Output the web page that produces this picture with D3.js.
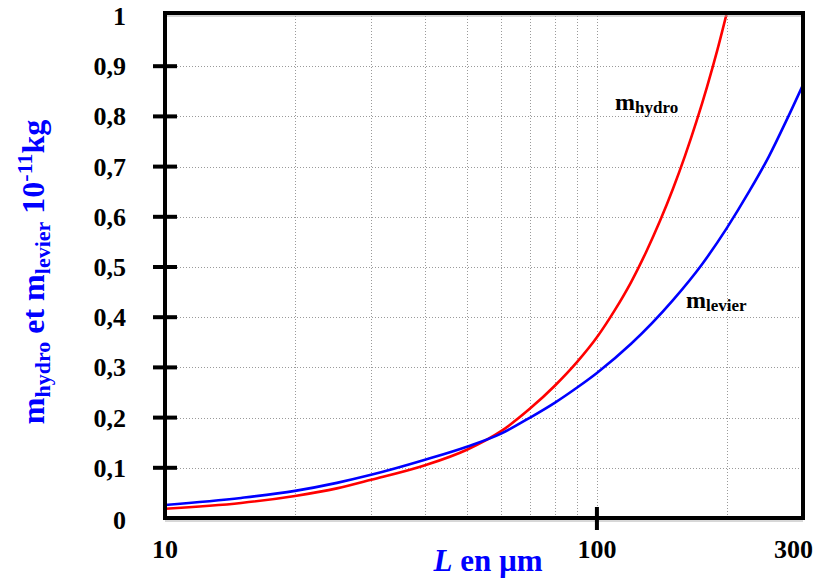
<!DOCTYPE html>
<html>
<head>
<meta charset="utf-8">
<script src="https://cdn.jsdelivr.net/npm/d3@7"></script>
<style>
  html, body { margin: 0; padding: 0; background: #fff; }
  svg { display: block; }
  text { font-family: "Liberation Serif", "Times New Roman", serif; font-weight: bold; }
</style>
</head>
<body>
<svg id="chart" width="814" height="581"></svg>
<script>
// ---- data ----
const lengthsHydro = [10, 15, 20, 25, 30, 40, 50, 60, 70, 80, 90, 100, 110, 120, 130, 140, 150, 160, 170, 180, 190, 200];
const mHydro       = [0.0185, 0.030, 0.044, 0.059, 0.076, 0.105, 0.136, 0.173, 0.218, 0.264, 0.311, 0.360, 0.414, 0.470, 0.530, 0.592, 0.656, 0.722, 0.790, 0.860, 0.932, 1.007];
const lengthsLevier = [10, 15, 20, 25, 30, 40, 50, 60, 70, 80, 90, 100, 120, 150, 175, 200, 225, 250, 275, 300];
const mLevier       = [0.026, 0.040, 0.054, 0.070, 0.086, 0.116, 0.142, 0.168, 0.200, 0.230, 0.260, 0.289, 0.347, 0.434, 0.505, 0.578, 0.650, 0.720, 0.793, 0.863];
const yTicks = [0, 0.1, 0.2, 0.3, 0.4, 0.5, 0.6, 0.7, 0.8, 0.9, 1];
const yTickLabels = ["0", "0,1", "0,2", "0,3", "0,4", "0,5", "0,6", "0,7", "0,8", "0,9", "1"];
const xGrid = [20, 30, 40, 50, 60, 70, 80, 90, 100, 200];
const xTickLabels = ["10", "100", "300"];
const xTickValues = [10, 100, 300];

// ---- layout ----
const pLeft = 165, pRight = 803, pTop = 13, pBottom = 518;
const svg = d3.select("#chart");

const x = d3.scaleLog().domain([10, 300]).range([pLeft, pRight]);
const y = d3.scaleLinear().domain([0, 1]).range([pBottom, 16]);

// clip
svg.append("defs").append("clipPath").attr("id", "plotclip")
  .append("rect").attr("x", pLeft).attr("y", pTop).attr("width", pRight - pLeft).attr("height", pBottom - pTop);

// grid
const grid = svg.append("g").attr("stroke", "#9a9a9a").attr("stroke-width", 1).attr("stroke-dasharray", "1,2");
grid.selectAll("line.v").data(xGrid).join("line").attr("class", "v")
  .attr("x1", d => Math.round(x(d)) + 0.5).attr("x2", d => Math.round(x(d)) + 0.5)
  .attr("y1", pTop).attr("y2", pBottom);
grid.selectAll("line.h").data(yTicks.filter(d => d > 0 && d < 1)).join("line").attr("class", "h")
  .attr("x1", pLeft).attr("x2", pRight)
  .attr("y1", d => Math.round(y(d)) + 0.5).attr("y2", d => Math.round(y(d)) + 0.5);

// curves
const line = d3.line().x(d => x(d[0])).y(d => y(d[1])).curve(d3.curveMonotoneX);
const curves = svg.append("g").attr("clip-path", "url(#plotclip)").attr("fill", "none").attr("stroke-width", 2.6);
curves.append("path").datum(lengthsHydro.map((L, i) => [L, mHydro[i]]))
  .attr("stroke", "#ff0000").attr("d", line);
curves.append("path").datum(lengthsLevier.map((L, i) => [L, mLevier[i]]))
  .attr("stroke", "#0000ff").attr("d", line);

// subtle inner shade lines of the frame
svg.append("line").attr("x1", pLeft + 2).attr("x2", pRight - 2).attr("y1", pTop + 3).attr("y2", pTop + 3)
  .attr("stroke", "#b0b0b0").attr("stroke-width", 1);
svg.append("line").attr("x1", pLeft).attr("x2", pRight).attr("y1", pBottom + 3).attr("y2", pBottom + 3)
  .attr("stroke", "#b0b0b0").attr("stroke-width", 1);

// frame
svg.append("rect").attr("x", pLeft).attr("y", pTop).attr("width", pRight - pLeft).attr("height", pBottom - pTop)
  .attr("fill", "none").attr("stroke", "#000").attr("stroke-width", 4);

// y ticks (crossing the axis)
svg.append("g").selectAll("line").data(yTicks.filter(d => d > 0 && d < 1)).join("line")
  .attr("x1", pLeft - 12).attr("x2", pLeft + 12)
  .attr("y1", d => y(d)).attr("y2", d => y(d))
  .attr("stroke", "#000").attr("stroke-width", 4);

// x tick at 100
svg.append("line").attr("x1", x(100)).attr("x2", x(100)).attr("y1", pBottom - 11).attr("y2", pBottom + 12)
  .attr("stroke", "#000").attr("stroke-width", 4);

// y tick labels
svg.append("g").selectAll("text").data(yTicks).join("text")
  .attr("x", 126).attr("y", (d, i) => y(d) + (i === 0 ? 11 : 9))
  .attr("text-anchor", "end").attr("font-size", 26).attr("fill", "#000")
  .text((d, i) => yTickLabels[i]);

// x tick labels
svg.append("g").selectAll("text").data(xTickValues).join("text")
  .attr("x", (d, i) => i === xTickValues.length - 1 ? x(d) + 10 : x(d))
  .attr("y", 558)
  .attr("text-anchor", (d, i) => i === xTickValues.length - 1 ? "end" : "middle")
  .attr("font-size", 26).attr("fill", "#000")
  .text((d, i) => xTickLabels[i]);

// x axis title
const xt = svg.append("text").attr("x", 488).attr("y", 571).attr("text-anchor", "middle")
  .attr("font-size", 31).attr("fill", "#0000ff");
xt.append("tspan").attr("font-style", "italic").text("L");
xt.append("tspan").text(" en µm");

// y axis title
const yt = svg.append("text").attr("transform", "translate(44,272) rotate(-90)")
  .attr("text-anchor", "middle").attr("fill", "#0000ff").attr("font-size", 32);
yt.append("tspan").text("m");
yt.append("tspan").attr("font-size", 22).attr("dy", 6).text("hydro");
yt.append("tspan").attr("dy", -6).text(" et m");
yt.append("tspan").attr("font-size", 22).attr("dy", 6).text("levier");
yt.append("tspan").attr("dy", -6).text(" 10");
yt.append("tspan").attr("font-size", 22).attr("dy", -12).text("-11");
yt.append("tspan").attr("dy", 12).text("kg");

// curve labels
const lh = svg.append("text").attr("x", 615).attr("y", 110).attr("font-size", 24).attr("fill", "#000");
lh.append("tspan").text("m");
lh.append("tspan").attr("font-size", 17).attr("dy", 3).text("hydro");
const ll = svg.append("text").attr("x", 686).attr("y", 308).attr("font-size", 24).attr("fill", "#000");
ll.append("tspan").text("m");
ll.append("tspan").attr("font-size", 17).attr("dy", 3).text("levier");
</script>
</body>
</html>
